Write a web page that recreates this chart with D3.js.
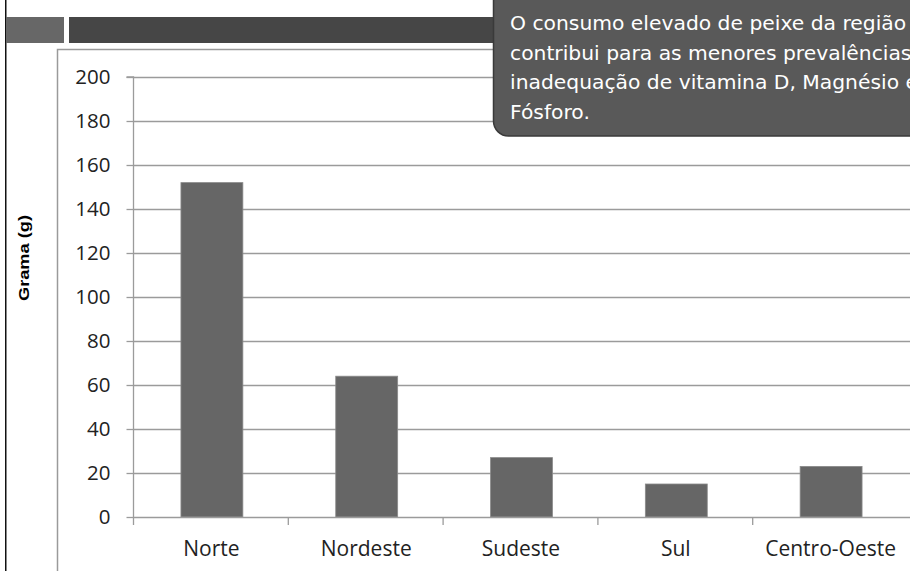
<!DOCTYPE html>
<html>
<head>
<meta charset="utf-8">
<script src="https://cdn.jsdelivr.net/npm/d3@7"></script>
<style>
  html, body { margin: 0; padding: 0; background: #fff; }
  svg { display: block; }
</style>
</head>
<body>
<svg id="chart" width="910" height="571"></svg>
<script>
// Consumo médio de peixe por região (gramas)
const regions = ["Norte", "Nordeste", "Sudeste", "Sul", "Centro-Oeste"];
const grams = [152, 64, 27, 15, 23];
const yTicks = [0, 20, 40, 60, 80, 100, 120, 140, 160, 180, 200];
const yTitle = "Grama (g)";
const noteLines = [
  "O consumo elevado de peixe da região Norte",
  "contribui para as menores prevalências de",
  "inadequação de vitamina D, Magnésio e",
  "Fósforo."
];

const svg = d3.select("#chart");
const W = 910, H = 571;
const labelFont = "'Open Sans', 'Noto Sans', sans-serif";

// slide frame: left rule and header banner
svg.append("rect").attr("x", 5).attr("y", 0).attr("width", 1.5).attr("height", H).attr("fill", "#111");
svg.append("rect").attr("x", 6).attr("y", 17).attr("width", 58).attr("height", 26).attr("fill", "#676767");
svg.append("rect").attr("x", 69).attr("y", 17).attr("width", W - 69).attr("height", 26).attr("fill", "#464646");

// chart area border
svg.append("rect").attr("x", 57.5).attr("y", 49.5).attr("width", W).attr("height", H)
  .attr("fill", "#fff").attr("stroke", "#9a9a9a").attr("stroke-width", 1.5);

const plot = { left: 133, right: 907, top: 77, bottom: 517 };

const xBand = d3.scaleBand().domain(regions).range([plot.left, plot.right]);
const x = d3.scaleBand().domain(regions).range([plot.left + 1.5, plot.right + 1.5]).paddingInner(0.6).paddingOuter(0.3);
const y = d3.scaleLinear().domain([0, 200]).range([plot.bottom, plot.top]);

// horizontal gridlines
svg.append("g").selectAll("line").data(yTicks.filter(d => d > 0)).join("line")
  .attr("x1", plot.left).attr("x2", W)
  .attr("y1", d => y(d) + 0.5).attr("y2", d => y(d) + 0.5)
  .attr("stroke", "#9b9b9b").attr("stroke-width", 1.3);

// bars
svg.append("g").selectAll("rect").data(regions).join("rect")
  .attr("x", d => x(d))
  .attr("width", x.bandwidth())
  .attr("y", (d, i) => y(grams[i]))
  .attr("height", (d, i) => y(0) - y(grams[i]))
  .attr("fill", "#666666")
  .attr("stroke", "#8a8a8a").attr("stroke-width", 0.8);

// y axis
const yAxis = d3.axisLeft(y).tickValues(yTicks).tickSize(7).tickPadding(16);
const gy = svg.append("g").attr("transform", `translate(${plot.left + 0.5},0)`).call(yAxis);
gy.select(".domain").attr("stroke", "#9b9b9b").attr("stroke-width", 1.3).attr("d", `M-7,${y(200)}H0V${plot.bottom + 8}`);
gy.selectAll(".tick line").attr("stroke", "#9b9b9b").attr("stroke-width", 1.3);
gy.selectAll(".tick text").attr("fill", "#222").style("font-family", labelFont).style("font-size", "20.5px");

// x axis (ticks at category boundaries)
svg.append("line").attr("x1", plot.left).attr("x2", W).attr("y1", plot.bottom + 0.5).attr("y2", plot.bottom + 0.5)
  .attr("stroke", "#9b9b9b").attr("stroke-width", 1.3);
svg.append("g").selectAll("line").data(regions.slice(1)).join("line")
  .attr("x1", d => xBand(d) + 0.5).attr("x2", d => xBand(d) + 0.5)
  .attr("y1", plot.bottom).attr("y2", plot.bottom + 8)
  .attr("stroke", "#9b9b9b").attr("stroke-width", 1.3);
svg.append("g").selectAll("text").data(regions).join("text")
  .attr("x", d => xBand(d) + xBand.bandwidth() / 2 + 1)
  .attr("y", 556)
  .attr("text-anchor", "middle")
  .attr("fill", "#222")
  .style("font-family", labelFont).style("font-size", "21px")
  .text(d => d);

// y axis title
svg.append("text")
  .attr("transform", "translate(29,258) rotate(-90)")
  .attr("text-anchor", "middle")
  .attr("fill", "#000")
  .attr("textLength", 86).attr("lengthAdjust", "spacingAndGlyphs")
  .style("font-family", "'Liberation Sans', Arial, sans-serif").style("font-size", "15px").style("font-weight", "bold")
  .text(yTitle);

// callout note
svg.append("rect").attr("x", 493.5).attr("y", -20).attr("width", 460).attr("height", 156).attr("rx", 15)
  .attr("fill", "#595959").attr("stroke", "#3a3a3a").attr("stroke-width", 1.5);
svg.append("g").selectAll("text").data(noteLines).join("text")
  .attr("x", 510)
  .attr("y", (d, i) => 30 + i * 29.5)
  .attr("fill", "#fff")
  .style("font-family", "'DejaVu Sans', sans-serif").style("font-size", "20.3px")
  .text(d => d);
</script>
</body>
</html>
